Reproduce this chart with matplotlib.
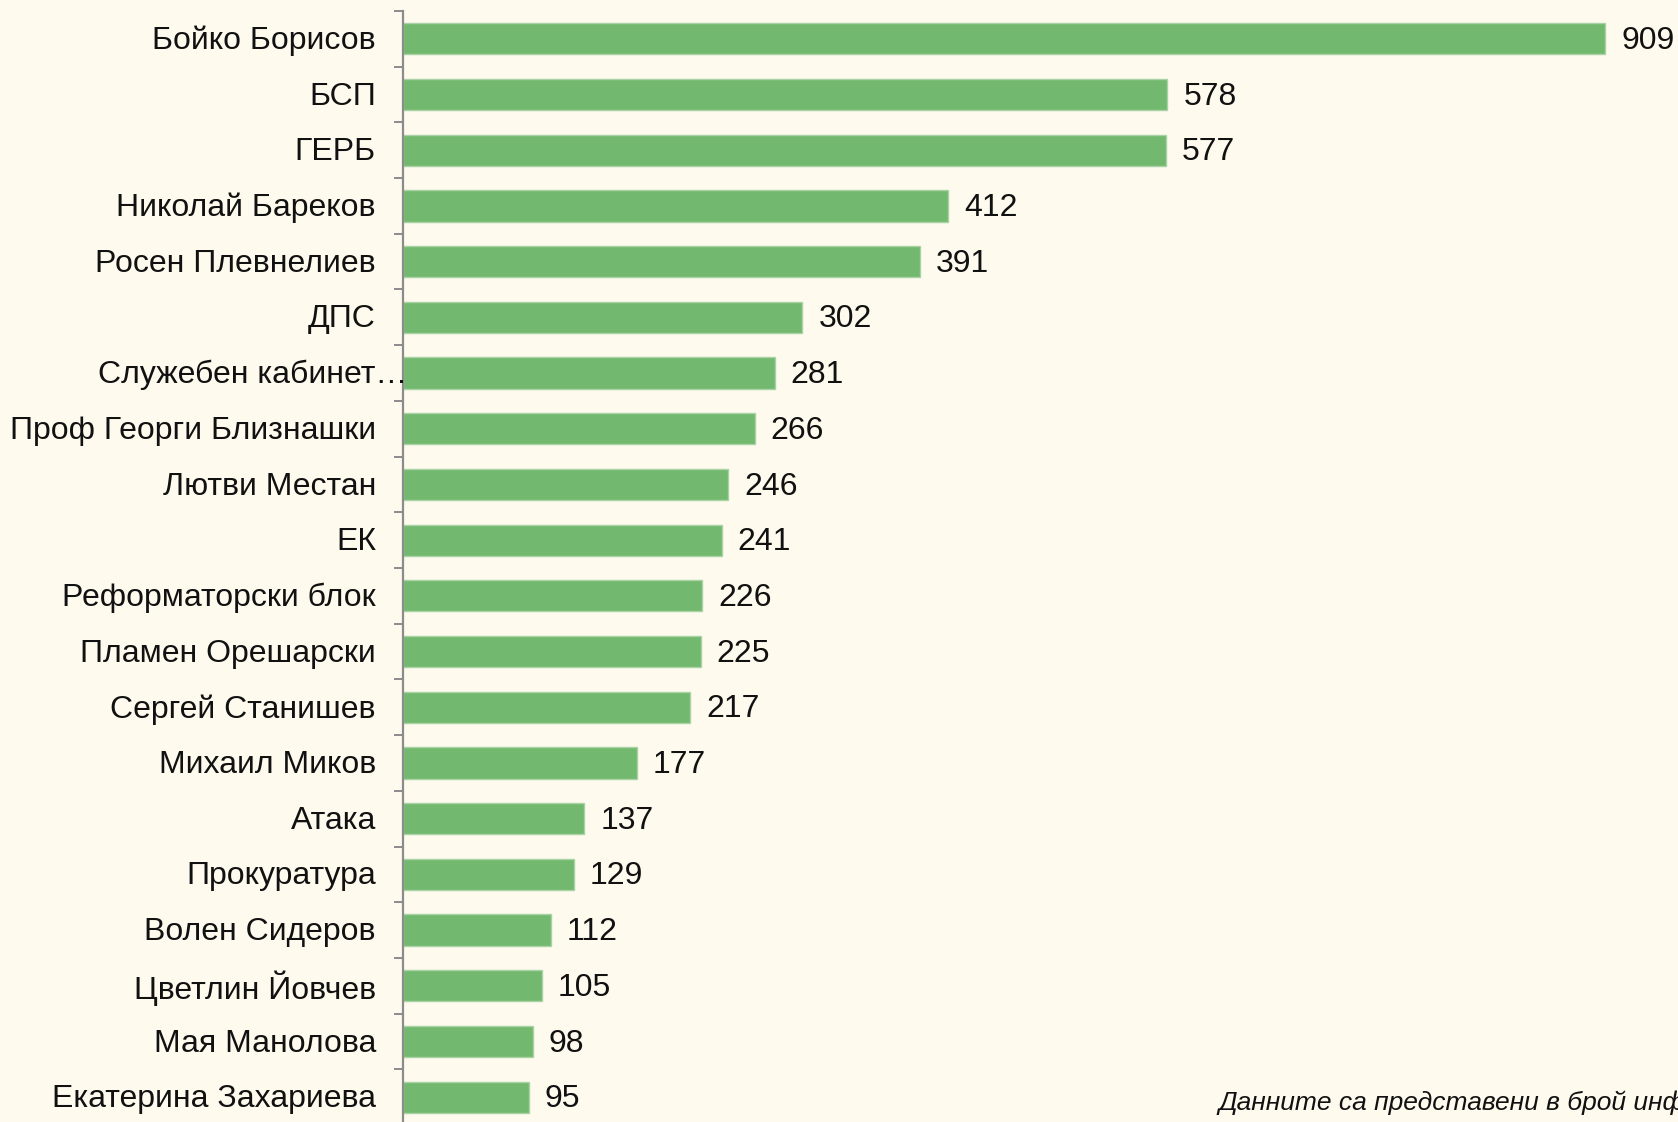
import matplotlib
matplotlib.use("Agg")
import matplotlib.pyplot as plt
import numpy as np

plt.rcParams['font.family'] = ['Liberation Sans', 'DejaVu Sans']

categories = [
    "Бойко Борисов", "БСП", "ГЕРБ", "Николай Бареков", "Росен Плевнелиев",
    "ДПС", "Служебен кабинет…", "Проф Георги Близнашки", "Лютви Местан", "ЕК",
    "Реформаторски блок", "Пламен Орешарски", "Сергей Станишев", "Михаил Миков",
    "Атака", "Прокуратура", "Волен Сидеров", "Цветлин Йовчев", "Мая Манолова",
    "Екатерина Захариева",
]
values = [909, 578, 577, 412, 391, 302, 281, 266, 246, 241,
          226, 225, 217, 177, 137, 129, 112, 105, 98, 95]
footnote = "Данните са представени в брой информации"

BG = '#FEFAEE'
BAR = '#72B86E'

fig = plt.figure(figsize=(16.78, 11.22), dpi=100, facecolor=BG)
ax = fig.add_axes([403 / 1678, -3 / 1122, 1 - 403 / 1678, 1 - 8 / 1122])
ax.set_facecolor(BG)

y = np.arange(len(categories))
ax.barh(y, values, height=0.56, color=BAR, edgecolor='#A9D3A6', linewidth=1.0, zorder=2)

ax.set_xlim(0, 964)
ax.set_ylim(len(categories) - 0.5, -0.5)

for s in ['top', 'right', 'bottom']:
    ax.spines[s].set_visible(False)
ax.spines['left'].set_color('#8C8C8C')
ax.spines['left'].set_linewidth(1.6)

ax.set_xticks([])
ax.set_yticks(np.arange(-0.5, len(categories) + 0.5, 1.0))
ax.set_yticklabels([])
ax.tick_params(axis='y', direction='out', length=6.5, width=1.4, color='#8C8C8C')

for i, (c, v) in enumerate(zip(categories, values)):
    dx = -19.5
    if c.endswith('…'):
        dx = 3.0
    ax.annotate(c, xy=(0, i), xycoords=('axes fraction', 'data'),
                xytext=(dx, -1.5), textcoords='offset points',
                ha='right', va='center', fontsize=23, color='#111111',
                annotation_clip=False)
    ax.annotate(str(v), xy=(v, i), xycoords='data',
                xytext=(11.5, -1.5), textcoords='offset points',
                ha='left', va='center', fontsize=23, color='#111111',
                annotation_clip=False)

fig.text(1218 / 1678, 1 - 1103 / 1122, footnote, ha='left', va='center',
         fontsize=19, style='italic', color='#111111')

fig.savefig('out.png', dpi=100, facecolor=BG)
